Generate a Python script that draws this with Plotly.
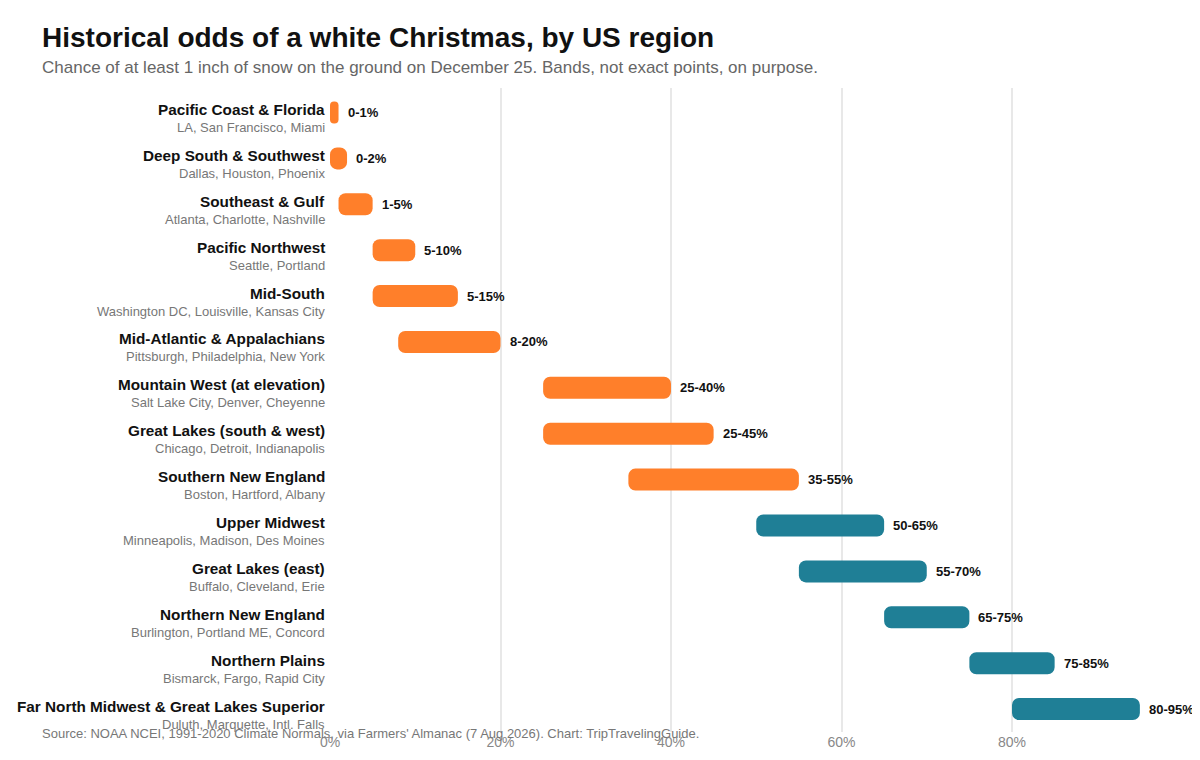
import plotly.graph_objects as go

regions = ["Pacific Coast & Florida", "Deep South & Southwest", "Southeast & Gulf",
           "Pacific Northwest", "Mid-South", "Mid-Atlantic & Appalachians",
           "Mountain West (at elevation)", "Great Lakes (south & west)",
           "Southern New England", "Upper Midwest", "Great Lakes (east)",
           "Northern New England", "Northern Plains",
           "Far North Midwest & Great Lakes Superior"]
cities = ["LA, San Francisco, Miami", "Dallas, Houston, Phoenix",
          "Atlanta, Charlotte, Nashville", "Seattle, Portland",
          "Washington DC, Louisville, Kansas City", "Pittsburgh, Philadelphia, New York",
          "Salt Lake City, Denver, Cheyenne", "Chicago, Detroit, Indianapolis",
          "Boston, Hartford, Albany", "Minneapolis, Madison, Des Moines",
          "Buffalo, Cleveland, Erie", "Burlington, Portland ME, Concord",
          "Bismarck, Fargo, Rapid City", "Duluth, Marquette, Intl. Falls"]
low = [0, 0, 1, 5, 5, 8, 25, 25, 35, 50, 55, 65, 75, 80]
high = [1, 2, 5, 10, 15, 20, 40, 45, 55, 65, 70, 75, 85, 95]
ticks = [0, 20, 40, 60, 80]

ORANGE = "#FF7F2A"
TEAL = "#1F7F96"
colors = [TEAL if l >= 50 else ORANGE for l in low]

# page body adds an 8px offset, so the figure is laid out 8px up/left of the target
W, H = 1184, 760
L, R, T, B = 322, 2, 80, 36
PW = W - L - R

fig = go.Figure(go.Bar(
    y=regions, x=[h - l for l, h in zip(low, high)], base=low, orientation="h",
    marker=dict(color=colors, cornerradius=7, line_width=0), width=0.48,
    hoverinfo="skip",
))

for r, c, l, h in zip(regions, cities, low, high):
    fig.add_annotation(x=h, y=r, text=f"<b>{l}-{h}%</b>", showarrow=False,
                       xanchor="left", xshift=7, font=dict(size=13, color="#111"))
    fig.add_annotation(x=0, xref="paper", y=r, text=f"<b>{r}</b>", showarrow=False,
                       xanchor="right", xshift=-3, yshift=3,
                       font=dict(size=15.3, color="#111"))
    fig.add_annotation(x=0, xref="paper", y=r, text=c, showarrow=False,
                       xanchor="right", xshift=-3, yshift=-15,
                       font=dict(size=13, color="#777"))

left = (32 - L) / PW
fig.add_annotation(x=left, xref="paper", y=1, yref="paper", yshift=51, xanchor="left",
                   yanchor="middle", showarrow=False,
                   text="<b>Historical odds of a white Christmas, by US region</b>",
                   font=dict(size=28, color="#111"))
fig.add_annotation(x=left, xref="paper", y=1, yref="paper", yshift=21, xanchor="left",
                   yanchor="middle", showarrow=False,
                   text="Chance of at least 1 inch of snow on the ground on December 25. Bands, not exact points, on purpose.",
                   font=dict(size=17, color="#666"))
fig.add_annotation(x=left, xref="paper", y=0, yref="paper", yshift=-1, xanchor="left",
                   yanchor="middle", showarrow=False,
                   text="Source: NOAA NCEI, 1991-2020 Climate Normals, via Farmers' Almanac (7 Aug 2026). Chart: TripTravelingGuide.",
                   font=dict(size=13, color="#777"))

fig.update_layout(
    width=W, height=H,
    margin=dict(l=L, r=R, t=T, b=B),
    plot_bgcolor="white", paper_bgcolor="white",
    font=dict(family="Liberation Sans, Arial, sans-serif"),
    showlegend=False,
    xaxis=dict(range=[0, 100 * PW / 852.5], tickvals=ticks, ticktext=[f"{t}%" for t in ticks],
               showgrid=True, gridcolor="#e8e8e8", gridwidth=2, zeroline=False,
               tickfont=dict(size=14, color="#888"), automargin=False),
    yaxis=dict(autorange="reversed", showticklabels=False, showgrid=False, automargin=False),
)

fig.write_html("out.html")
